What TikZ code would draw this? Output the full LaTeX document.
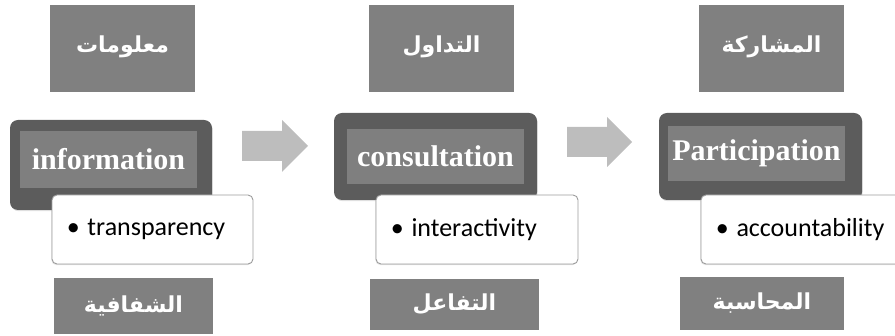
\documentclass[tikz,border=0pt]{standalone}
\usepackage{fontspec}
\usetikzlibrary{shadows}
\TeXXeTstate=1
\newfontfamily\arabicfont[Script=Arabic]{DejaVu Sans}
\newfontfamily\enserif{Liberation Serif}
\newfontfamily\bulletfont{Carlito}
\definecolor{boxgrey}{HTML}{808080}
\definecolor{darkgrey}{HTML}{5C5C5C}
\definecolor{innergrey}{HTML}{7F7F7F}
\definecolor{arrowgrey}{HTML}{BDBDBD}
\definecolor{edgegrey}{HTML}{9C9C9C}
\newcommand{\upar}[1]{\raisebox{8pt}{\beginR #1\endR}}
\tikzset{
  arbox/.style={fill=boxgrey, draw=none, inner sep=0pt, text=white,
    font=\arabicfont\bfseries\fontsize{22}{24}\selectfont},
  darkbox/.style={fill=darkgrey, draw=none, rounded corners=8pt, inner sep=0pt,
    drop shadow={opacity=0.25, shadow xshift=0.6pt, shadow yshift=-1.2pt}},
  innerbox/.style={fill=innergrey, draw=none, inner sep=0pt, text=white,
    font=\enserif\bfseries\fontsize{30}{32}\selectfont},
  bulletbox/.style={fill=white, draw=edgegrey, line width=0.9pt, rounded corners=5pt, inner sep=0pt,
    drop shadow={opacity=0.2, shadow xshift=-0.6pt, shadow yshift=-1.2pt}},
  bullettext/.style={anchor=west, inner sep=0pt, text=black,
    font=\bulletfont\fontsize{26}{28}\selectfont},
  blockarrow/.style={fill=arrowgrey, draw=none},
}
\begin{document}
\begin{tikzpicture}[x=1pt,y=-1pt]
\useasboundingbox (0,0) rectangle (895,336);
\begin{scope}
\clip (0,0) rectangle (895,336);
% panel 1
\node[arbox, minimum width=145pt, minimum height=87pt] (top1) at (122.5,48.5) {\upar{معلومات}};
\node[darkbox, minimum width=202pt, minimum height=90pt] (dark1) at (111,165) {};
\node[innerbox, minimum width=177pt, minimum height=57pt] (in1) at (108.5,159.5) {information};
\node[bulletbox, minimum width=201pt, minimum height=69pt] (wb1) at (152.5,229.5) {};
\node[bullettext] (bt1) at ([xshift=15pt]wb1.west) {•\hspace{0.3em}transparency};
\node[arbox, minimum width=159pt, minimum height=56pt] (bot1) at (133.5,306) {\beginR الشفافية\endR};
% arrow 1
\coordinate (arr1) at (242,147);
\fill[blockarrow] (arr1) ++(0,-16) -- ++(40,0) -- ++(0,-11) -- ++(26,26) -- ++(-26,26)
  -- ++(0,-11) -- ++(-40,0) -- cycle;
% panel 2
\node[arbox, minimum width=145pt, minimum height=87pt] (top2) at (441.5,48.5) {\upar{التداول}};
\node[darkbox, minimum width=203pt, minimum height=87pt] (dark2) at (435.5,156.5) {};
\node[innerbox, minimum width=177pt, minimum height=55pt] (in2) at (435.5,156.5) {consultation};
\node[bulletbox, minimum width=202pt, minimum height=69pt] (wb2) at (477,229.5) {};
\node[bullettext] (bt2) at ([xshift=15pt]wb2.west) {•\hspace{0.3em}interactivity};
\node[arbox, minimum width=169pt, minimum height=51pt] (bot2) at (454.5,304.5) {\beginR التفاعل\endR};
% arrow 2
\coordinate (arr2) at (567,143);
\fill[blockarrow] (arr2) ++(0,-16) -- ++(40,0) -- ++(0,-10) -- ++(25,25) -- ++(-25,25)
  -- ++(0,-10) -- ++(-40,0) -- cycle;
% panel 3
\node[arbox, minimum width=145pt, minimum height=87pt] (top3) at (771.5,48.5) {\upar{المشاركة}};
\node[darkbox, minimum width=203pt, minimum height=87pt] (dark3) at (760.5,156.5) {};
\node[innerbox, minimum width=177pt, minimum height=55pt] (in3) at (756.5,153.5) {Participation};
\node[bulletbox, minimum width=210pt, minimum height=69pt] (wb3) at (806,229.5) {};
\node[bullettext] (bt3) at ([xshift=15pt]wb3.west) {•\hspace{0.3em}accountability};
\node[arbox, minimum width=164pt, minimum height=53pt] (bot3) at (762,303.5) {\beginR المحاسبة\endR};
\end{scope}
\end{tikzpicture}
\end{document}
